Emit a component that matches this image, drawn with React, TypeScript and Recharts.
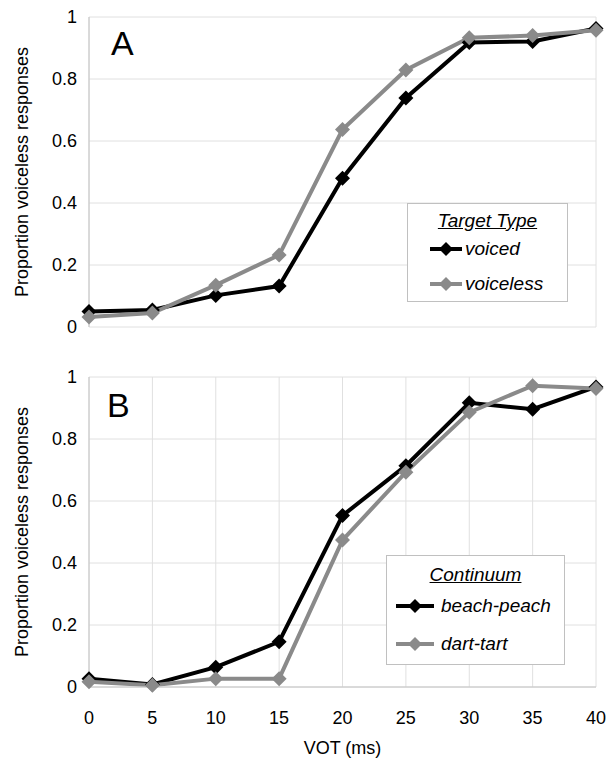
import { LineChart, Line, XAxis, YAxis, CartesianGrid, Legend } from "recharts";

const vot = [0, 5, 10, 15, 20, 25, 30, 35, 40];
const yTicks = [0, 0.2, 0.4, 0.6, 0.8, 1];

// panel A: target type
const voiced = [0.05, 0.055, 0.102, 0.132, 0.48, 0.739, 0.918, 0.921, 0.963];
const voiceless = [0.032, 0.045, 0.135, 0.232, 0.637, 0.829, 0.933, 0.94, 0.957];

// panel B: continuum
const beachPeach = [0.027, 0.008, 0.064, 0.146, 0.553, 0.714, 0.917, 0.896, 0.968];
const dartTart = [0.017, 0.006, 0.027, 0.027, 0.474, 0.693, 0.886, 0.972, 0.963];

const dataA = vot.map((v, i) => ({ vot: v, voiced: voiced[i], voiceless: voiceless[i] }));
const dataB = vot.map((v, i) => ({ vot: v, beach: beachPeach[i], dart: dartTart[i] }));

const FONT = '"Liberation Sans", Arial, sans-serif';
const GRAY = "#8a8a8a";
const GRID = "#e0e0e0";
const AXIS = "#c4c4c4";
const LW = 4;

function diamond(color: string, r: number) {
    return (props: any) => {
        const { cx, cy, index } = props;
        if (cx == null || cy == null) return <g key={index} />;
        return (
            <path
                key={index}
                d={`M${cx},${cy - r}L${cx + r},${cy}L${cx},${cy + r}L${cx - r},${cy}Z`}
                fill={color}
            />
        );
    };
}

function LegendIcon({ color, w, r }: { color: string; w: number; r: number }) {
    return (
        <svg width={w} height={2 * r + 2} style={{ display: "block" }}>
            <line x1={0} x2={w} y1={r + 1} y2={r + 1} stroke={color} strokeWidth={LW} />
            <path d={`M${w / 2},1L${w / 2 + r},${r + 1}L${w / 2},${2 * r + 1}L${w / 2 - r},${r + 1}Z`} fill={color} />
        </svg>
    );
}

function BoxLegend({ title, items, w, h, titleY, rowYs, iconX, iconW, textX }: any) {
    return (
        <div style={{ position: "relative", width: w, height: h, border: "1px solid #c0c0c0", background: "#fff", boxSizing: "border-box", fontFamily: FONT, fontSize: 19, fontStyle: "italic" }}>
            <div style={{ position: "absolute", left: 0, width: w - 2, top: titleY - 12, lineHeight: "24px", textAlign: "center", textDecoration: "underline" }}>
                {title}
            </div>
            {items.map((it: any, i: number) => (
                <div key={it.label} style={{ position: "absolute", left: 0, top: rowYs[i] - 12, height: 24, width: w }}>
                    <div style={{ position: "absolute", left: iconX, top: 12 - 8 }}>
                        <LegendIcon color={it.color} w={iconW} r={7} />
                    </div>
                    <div style={{ position: "absolute", left: textX, top: 0, lineHeight: "24px", whiteSpace: "nowrap" }}>{it.label}</div>
                </div>
            ))}
        </div>
    );
}

const yLabel = {
    value: "Proportion voiceless responses",
    angle: -90,
    position: "insideLeft" as const,
    offset: 22,
    style: { textAnchor: "middle", fill: "#000", fontSize: 18, fontFamily: FONT },
};

const tickStyle = { fill: "#000", fontSize: 18, fontFamily: FONT };

function PanelLetter({ text, left, top }: { text: string; left: number; top: number }) {
    return (
        <div style={{ position: "absolute", left, top, fontFamily: FONT, fontSize: 34, lineHeight: 1, color: "#000" }}>{text}</div>
    );
}

export default function App() {
    return (
        <div style={{ width: 608, fontFamily: FONT }}>
            <style>{`body{margin:0}`}</style>
            <div style={{ position: "relative", width: 608, height: 348 }}>
                <LineChart width={608} height={348} data={dataA} margin={{ top: 17, right: 12, bottom: 21, left: 0 }}>
                    <CartesianGrid stroke={GRID} />
                    <XAxis dataKey="vot" type="number" domain={[0, 40]} ticks={vot} tick={false} tickLine={false} height={0} axisLine={{ stroke: AXIS }} />
                    <YAxis domain={[0, 1]} ticks={yTicks} width={89} tickLine={false} tickSize={0} tickMargin={12} axisLine={{ stroke: AXIS }} tick={tickStyle} label={yLabel} />
                    <Legend
                        layout="vertical"
                        align="center"
                        verticalAlign="middle"
                        wrapperStyle={{ left: 407, top: 203, width: 161, height: 99 }}
                        content={() => (
                            <BoxLegend
                                title="Target Type"
                                w={161}
                                h={99}
                                titleY={17}
                                rowYs={[45, 80]}
                                iconX={22}
                                iconW={32}
                                textX={57}
                                items={[{ label: "voiced", color: "#000" }, { label: "voiceless", color: GRAY }]}
                            />
                        )}
                    />
                    <Line type="linear" dataKey="voiced" stroke="#000" strokeWidth={LW} dot={diamond("#000", 7.5)} activeDot={false} isAnimationActive={false} />
                    <Line type="linear" dataKey="voiceless" stroke={GRAY} strokeWidth={LW} dot={diamond(GRAY, 7.5)} activeDot={false} isAnimationActive={false} />
                </LineChart>
                <PanelLetter text="A" left={111} top={26} />
            </div>
            <div style={{ position: "relative", width: 608, height: 414 }}>
                <LineChart width={608} height={414} data={dataB} margin={{ top: 29, right: 12, bottom: 0, left: 0 }}>
                    <CartesianGrid stroke={GRID} />
                    <XAxis
                        dataKey="vot"
                        type="number"
                        domain={[0, 40]}
                        ticks={vot}
                        height={75}
                        tickLine={false}
                        tickSize={0}
                        tickMargin={24}
                        axisLine={{ stroke: AXIS }}
                        tick={tickStyle}
                        label={{ value: "VOT (ms)", position: "insideBottom", offset: 8, style: { fill: "#000", fontSize: 18, fontFamily: FONT } }}
                    />
                    <YAxis domain={[0, 1]} ticks={yTicks} width={89} tickLine={false} tickSize={0} tickMargin={12} axisLine={{ stroke: AXIS }} tick={tickStyle} label={yLabel} />
                    <Legend
                        layout="vertical"
                        align="center"
                        verticalAlign="middle"
                        wrapperStyle={{ left: 386, top: 207, width: 179, height: 110 }}
                        content={() => (
                            <BoxLegend
                                title="Continuum"
                                w={179}
                                h={110}
                                titleY={19}
                                rowYs={[50, 88]}
                                iconX={9}
                                iconW={38}
                                textX={54}
                                items={[{ label: "beach-peach", color: "#000" }, { label: "dart-tart", color: GRAY }]}
                            />
                        )}
                    />
                    <Line type="linear" dataKey="beach" stroke="#000" strokeWidth={LW} dot={diamond("#000", 7.5)} activeDot={false} isAnimationActive={false} />
                    <Line type="linear" dataKey="dart" stroke={GRAY} strokeWidth={LW} dot={diamond(GRAY, 7.5)} activeDot={false} isAnimationActive={false} />
                </LineChart>
                <PanelLetter text="B" left={107} top={40} />
            </div>
        </div>
    );
}
